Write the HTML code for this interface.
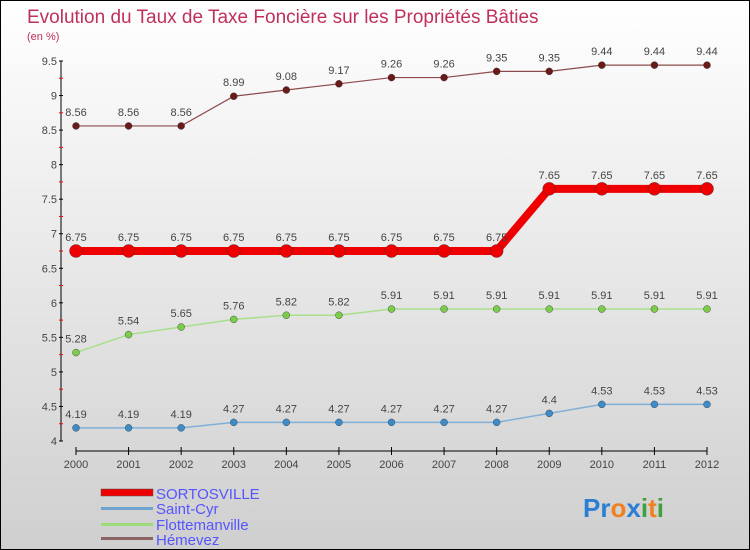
<!DOCTYPE html>
<html><head><meta charset="utf-8"><style>
body{margin:0}
#wrap{position:relative;width:750px;height:550px;box-sizing:border-box;border:1px solid #000;background:linear-gradient(#fff,#cfcfcf);overflow:hidden;font-family:"Liberation Sans",sans-serif}
</style></head><body>
<div id="wrap">
<svg id="chart" width="750" height="550" style="position:absolute;left:0;top:0">
<text x="26" y="22" font-size="19" fill="#c0305a">Evolution du Taux de Taxe Foncière sur les Propriétés Bâties</text>
<text x="26" y="39" font-size="11" fill="#c0305a">(en %)</text>
<g id="axes"></g><g id="series"></g>
<g>
<rect x="100" y="488" width="52" height="7" fill="#e00" stroke="#555" stroke-width="0.5"/>
<text x="155" y="498" font-size="15" fill="#5555ff">SORTOSVILLE</text>
<rect x="100" y="506" width="52" height="3" fill="#6fa3cf"/>
<text x="155" y="513" font-size="15" fill="#5555ff">Saint-Cyr</text>
<rect x="100" y="522" width="52" height="3" fill="#9edb7a"/>
<text x="155" y="529" font-size="15" fill="#5555ff">Flottemanville</text>
<rect x="100" y="536" width="52" height="3" fill="#8d6464"/>
<text x="155" y="544" font-size="15" fill="#5555ff">Hémevez</text>
</g>
<text x="582" y="516" font-size="26" font-weight="bold"><tspan fill="#2a7fd4">Pr</tspan><tspan fill="#f08020">o</tspan><tspan fill="#2a7fd4">x</tspan><tspan fill="#40a040">i</tspan><tspan fill="#f08020">t</tspan><tspan fill="#40a040">i</tspan></text>
</svg>
</div>
<script>
const years=[2000,2001,2002,2003,2004,2005,2006,2007,2008,2009,2010,2011,2012];
const sortosville=[6.75,6.75,6.75,6.75,6.75,6.75,6.75,6.75,6.75,7.65,7.65,7.65,7.65];
const saintCyr=[4.19,4.19,4.19,4.27,4.27,4.27,4.27,4.27,4.27,4.4,4.53,4.53,4.53];
const flottemanville=[5.28,5.54,5.65,5.76,5.82,5.82,5.91,5.91,5.91,5.91,5.91,5.91,5.91];
const hemevez=[8.56,8.56,8.56,8.99,9.08,9.17,9.26,9.26,9.35,9.35,9.44,9.44,9.44];
const yTicks=[4,4.5,5,5.5,6,6.5,7,7.5,8,8.5,9,9.5];
const NS="http://www.w3.org/2000/svg";
const X=i=>75+i*(706-75)/(years.length-1);
const Y=v=>440-(v-4)*(380/5.5);
function mk(t,a,p){const e=document.createElementNS(NS,t);for(const k in a)e.setAttribute(k,a[k]);p.appendChild(e);return e;}
const ax=document.getElementById('axes'),sg=document.getElementById('series');
let l=mk('line',{x1:60,y1:Y(9.5),x2:60,y2:Y(4),stroke:'#000','stroke-width':1},ax);


yTicks.forEach((v,k)=>{mk('line',{x1:58,x2:62,y1:Y(v),y2:Y(v),stroke:'#000'},ax);
if(k<yTicks.length-1)mk('line',{x1:58,x2:62,y1:Y(v+0.25),y2:Y(v+0.25),stroke:'#f00'},ax);
const t=mk('text',{x:56,y:Y(v)+4,'text-anchor':'end','font-size':11,fill:'#444'},ax);t.textContent=String(v);

});
l=mk('line',{x1:75,y1:450,x2:706,y2:450,stroke:'#000','stroke-width':1},ax);


years.forEach((y,i)=>{mk('line',{x1:X(i),x2:X(i),y1:446,y2:454,stroke:'#000'},ax);
const t=mk('text',{x:X(i),y:467,'text-anchor':'middle','font-size':11,fill:'#444'},ax);t.textContent=y;

});
function series(d,name,col,dot,w,r){
const g=mk('g',{},sg);


mk('polyline',{points:d.map((v,i)=>X(i)+','+Y(v)).join(' '),fill:'none',stroke:col,'stroke-width':w},g);
d.forEach((v,i)=>{const c=mk('circle',{cx:X(i),cy:Y(v),r:r,fill:dot,stroke:'#333','stroke-width':0.4},g);


const t=mk('text',{x:X(i),y:Y(v)-10,'text-anchor':'middle','font-size':11,fill:'#444'},g);t.textContent=String(v);

});}
series(hemevez,'hemevez','#8d4a4a','#6b1a1a',1.2,3.5);
series(flottemanville,'flottemanville','#a8e08a','#7acc4a',1.5,3.5);
series(saintCyr,'saint-cyr','#80b0d8','#3d8cc8',1.5,3.5);
series(sortosville,'sortosville','#ee0000','#ee0000',8,6.5);
</script>
</body></html>
